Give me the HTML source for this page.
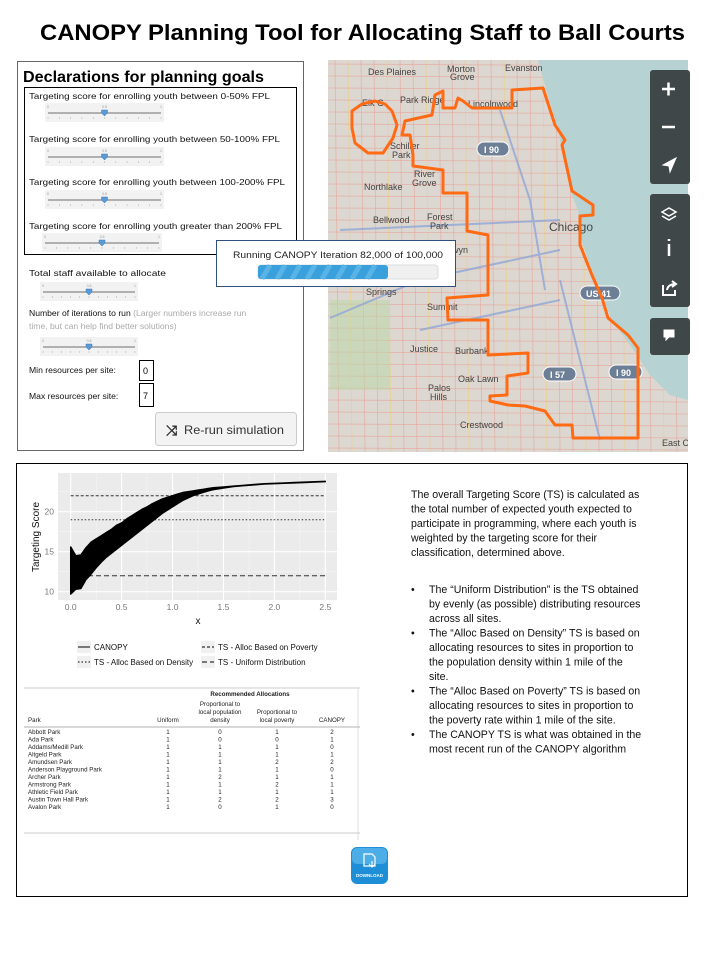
<!DOCTYPE html>
<html><head><meta charset="utf-8"><style>
html,body{margin:0;padding:0;background:#fff;width:720px;height:960px;overflow:hidden}
svg{display:block;font-family:"Liberation Sans",sans-serif}
</style></head><body>
<svg id="page" width="720" height="960" viewBox="0 0 720 960" xmlns="http://www.w3.org/2000/svg">
<text x="40" y="40" font-size="22" font-weight="bold" textLength="645" lengthAdjust="spacingAndGlyphs">CANOPY Planning Tool for Allocating Staff to Ball Courts</text>

<g>
<rect x="17.5" y="61.5" width="286" height="389" fill="#fff" stroke="#666" stroke-width="1"/>
<text x="23" y="82" font-size="16" font-weight="bold" textLength="241" lengthAdjust="spacingAndGlyphs">Declarations for planning goals</text>
<rect x="24.5" y="87.5" width="272" height="167" fill="none" stroke="#000" stroke-width="1"/>
<g font-size="8.6" fill="#111">
<text x="29" y="99" textLength="241" lengthAdjust="spacingAndGlyphs">Targeting score for enrolling youth between 0-50% FPL</text>
<text x="29" y="142" textLength="251" lengthAdjust="spacingAndGlyphs">Targeting score for enrolling youth between 50-100% FPL</text>
<text x="29" y="185" textLength="256" lengthAdjust="spacingAndGlyphs">Targeting score for enrolling youth between 100-200% FPL</text>
<text x="29" y="229" textLength="253" lengthAdjust="spacingAndGlyphs">Targeting score for enrolling youth greater than 200% FPL</text>
<text x="29" y="276" textLength="137" lengthAdjust="spacingAndGlyphs">Total staff available to allocate</text>
<text x="29" y="316"><tspan>Number of iterations to run</tspan><tspan fill="#aaa"> (Larger numbers increase run</tspan></text>
<text x="29" y="329" fill="#aaa">time, but can help find better solutions)</text>
<text x="29" y="373">Min resources per site:</text>
<text x="29" y="399">Max resources per site:</text>
</g>
<g id="sliders"></g>
<rect x="139.5" y="360.5" width="14" height="20" fill="#fff" stroke="#000"/>
<text x="143" y="374" font-size="9">0</text>
<rect x="139.5" y="383.5" width="14" height="23" fill="#fff" stroke="#000"/>
<text x="143" y="399" font-size="9">7</text>
<g>
<rect x="155.5" y="412.5" width="141" height="33" rx="3" fill="#f3f3f3" stroke="#ccc"/>
<text x="166" y="435" font-size="14" font-weight="bold" fill="#333">⤨</text>
<text x="184" y="434" font-size="12" fill="#333" textLength="100" lengthAdjust="spacingAndGlyphs">Re-run simulation</text>
</g>
</g>

<g>
<clipPath id="mapclip"><rect x="328" y="60" width="360" height="392"/></clipPath>
<g clip-path="url(#mapclip)">
<rect x="328" y="60" width="360" height="392" fill="#dcd7d0"/>
<g id="roads"></g>
<polygon fill="#b6d2d2" points="538,60 688,60 688,400 670,395 650,375 640,360 630,345 612,320 600,290 588,260 580,235 578,210 572,195 565,165 558,130 548,95 542,75"/>
<rect x="330" y="300" width="60" height="90" fill="#b9d7a5" opacity="0.5"/>
<path d="M330 318 L420 280 L560 250 M340 230 L560 220 M420 330 L560 300 M500 110 L530 200 L545 290 M560 280 L600 440" stroke="#8fa6d6" stroke-width="2" fill="none" opacity="0.8"/>
<g font-size="9" fill="#444">
<text x="368" y="75">Des Plaines</text><text x="447" y="72">Morton</text><text x="450" y="80">Grove</text>
<text x="505" y="71">Evanston</text><text x="400" y="103">Park Ridge</text><text x="362" y="106">Elk G</text>
<text x="468" y="107">Lincolnwood</text><text x="390" y="149">Schiller</text><text x="392" y="158">Park</text>
<text x="414" y="177">River</text><text x="412" y="186">Grove</text><text x="364" y="190">Northlake</text>
<text x="373" y="223">Bellwood</text><text x="427" y="220">Forest</text><text x="430" y="229">Park</text>
<text x="549" y="231" font-size="12">Chicago</text><text x="438" y="253">Berwyn</text>
<text x="366" y="295">Springs</text><text x="427" y="310">Summit</text><text x="410" y="352">Justice</text>
<text x="455" y="354">Burbank</text><text x="458" y="382">Oak Lawn</text><text x="428" y="391">Palos</text><text x="430" y="400">Hills</text>
<text x="460" y="428">Crestwood</text><text x="662" y="446">East C</text>
</g>
<g font-size="9" font-weight="bold" fill="#fff">
<rect x="477" y="142" width="32" height="14" rx="7" fill="#6d7f96" stroke="#fff"/><text x="484" y="153">I 90</text>
<rect x="580" y="286" width="40" height="14" rx="7" fill="#6d7f96" stroke="#fff"/><text x="586" y="297">US 41</text>
<rect x="543" y="367" width="33" height="14" rx="7" fill="#6d7f96" stroke="#fff"/><text x="550" y="378">I 57</text>
<rect x="609" y="365" width="33" height="14" rx="7" fill="#6d7f96" stroke="#fff"/><text x="616" y="376">I 90</text>
</g>
<polygon fill="none" stroke="#ff6a13" stroke-width="3" stroke-linejoin="round" points="443,91 443,108 455,108 458,98 463,101 472,108 512,108 512,90 543,88 555,125 565,140 562,145 572,191 593,205 593,215 580,216 580,245 592,275 602,298 608,318 628,335 638,348 638,438 573,438 572,425 555,425 545,411 525,406 508,405 490,401 490,396 507,395 507,376 528,373 528,353 488,355 488,320 448,320 447,298 488,295 488,235 467,231 467,193 443,193 443,170 413,166 413,155 410,135 402,135 405,121 432,115 435,95"/>
<polygon fill="none" stroke="#ff6a13" stroke-width="3" stroke-linejoin="round" points="352,111 362,104 375,101 385,104 392,111 397,125 393,138 383,153 368,153 355,143 352,128"/>
</g>
<g>
<rect x="650" y="70" width="40" height="114" rx="3" fill="#3f4748"/>
<rect x="650" y="194" width="40" height="113" rx="3" fill="#3f4748"/>
<rect x="650" y="318" width="40" height="37" rx="3" fill="#3f4748"/>
<g stroke="#fff" stroke-width="2.5" fill="#fff">
<path d="M662 89 H675 M668.5 82.5 V95.5"/>
<path d="M662 127 H675"/>
<path d="M676 158 L663 165 L669 166 L670 172 Z" stroke-width="1"/>
<path d="M662 212 L669 208 L676 212 L669 216 Z M662 216 L669 220 L676 216" stroke-width="1.5" fill="none"/>
<path d="M669 244 V256 M669 239 V241"/>
<path d="M663 285 V295 H675 V290 M667 290 Q668 284 676 284 M672 281 L676 284 L672 287" fill="none" stroke-width="2"/>
<path d="M664 330 H674 V337 H669 L666 340 V337 H664 Z" stroke-width="1"/>
</g>
</g>
</g>

<g>
<rect x="216.5" y="240.5" width="239" height="46" fill="#fff" stroke="#2f4f7f"/>
<text x="233" y="258" font-size="9.5" fill="#222" textLength="210" lengthAdjust="spacingAndGlyphs">Running CANOPY Iteration 82,000 of 100,000</text>
<rect x="258" y="265" width="180" height="14" rx="3" fill="#f0f0f0" stroke="#ddd"/>
<rect x="258" y="265" width="130" height="14" rx="3" fill="#39a0dc"/>
<path d="M270 265 l-8 14 M285 265 l-8 14 M300 265 l-8 14 M315 265 l-8 14 M330 265 l-8 14 M345 265 l-8 14 M360 265 l-8 14 M375 265 l-8 14" stroke="#6fc0ec" stroke-width="5" opacity="0.6"/>
</g>

<rect x="16.5" y="463.5" width="671" height="433" fill="none" stroke="#000"/>
<g id="chart"></g>

<g font-size="10.6" fill="#111">
<text x="411" y="498">The overall Targeting Score (TS)  is calculated as</text>
<text x="411" y="512.5">the total number of expected  youth expected to</text>
<text x="411" y="527">participate in programming, where each youth is</text>
<text x="411" y="541.5">weighted  by the targeting score for their</text>
<text x="411" y="556">classification, determined above.</text>
<text x="411" y="593">•</text><text x="429" y="593">The “Uniform Distribution” is the TS obtained</text>
<text x="429" y="607.5">by evenly (as possible) distributing resources</text>
<text x="429" y="622">across all sites.</text>
<text x="411" y="636.5">•</text><text x="429" y="636.5">The  “Alloc Based on Density” TS is based on</text>
<text x="429" y="651">allocating resources to sites in proportion to</text>
<text x="429" y="665.5">the population density within 1 mile of the</text>
<text x="429" y="680">site.</text>
<text x="411" y="694.5">•</text><text x="429" y="694.5">The “Alloc Based on Poverty”  TS is based on</text>
<text x="429" y="709">allocating resources to sites in proportion to</text>
<text x="429" y="723.5">the poverty rate within 1 mile of the site.</text>
<text x="411" y="738">•</text><text x="429" y="738">The CANOPY TS is what was obtained in the</text>
<text x="429" y="752.5">most recent run of the CANOPY algorithm</text>
</g>

<g id="table"></g>

<g>
<rect x="351" y="847" width="37" height="37" rx="6" fill="#1e8fd6"/>
<rect x="352" y="848" width="35" height="16" rx="5" fill="#6cc2f2" opacity="0.6"/>
<path d="M364 854 h8 l3 3 v9 h-11 z" fill="none" stroke="#fff" stroke-width="1.2"/>
<path d="M372 861 v6 M369 864 l3 3 l3 -3" stroke="#fff" stroke-width="1.2" fill="none"/>
<text x="369.5" y="877" font-size="4.5" font-weight="bold" fill="#fff" text-anchor="middle">DOWNLOAD</text>
</g>
</svg>
<script>
// ---- chart data ----
const xTicks = [0.0, 0.5, 1.0, 1.5, 2.0, 2.5];
const yTicks = [10, 15, 20];
const canopyX = [0,0.05,0.10,0.15,0.20,0.25,0.30,0.35,0.40,0.45,0.50,0.55,0.60,0.65,0.70,0.75,0.80,0.85,0.90,0.95,1.00,1.05,1.10,1.15,1.20,1.25,1.30,1.35,1.40,1.50,1.6,1.7,1.8,1.9,2.0,2.1,2.2,2.3,2.4,2.5];
const canopyLower = [9.7,10.3,10.4,11.5,12.2,13.0,13.7,14.3,14.8,15.3,15.8,16.3,16.8,17.3,17.8,18.3,18.8,19.3,19.8,20.2,20.6,21.0,21.4,21.7,22.0,22.2,22.4,22.6,22.75,22.95,23.15,23.25,23.35,23.45,23.5,23.55,23.6,23.65,23.7,23.75];
const canopyUpper = [15.6,14.5,14.6,15.5,16.2,16.6,17.0,17.4,17.8,18.3,18.6,19.1,19.5,19.9,20.3,20.6,21.0,21.3,21.6,21.8,22.0,22.2,22.4,22.5,22.6,22.7,22.8,22.9,23.0,23.1,23.2,23.3,23.4,23.5,23.55,23.6,23.65,23.7,23.75,23.8];
const refNames = ["TS - Alloc Based on Poverty","TS - Alloc Based on Density","TS - Uniform Distribution"];
const refValues = [22, 19, 12];
const refStart = [0, 0, 0.17];
const refDash = ["3,2","1.5,2","5,3"];

const NS="http://www.w3.org/2000/svg";
function mk(tag, attrs, parent){const e=document.createElementNS(NS,tag);for(const k in attrs)e.setAttribute(k,attrs[k]);parent.appendChild(e);return e;}
const X0=70.7,X1=325.3,Y10=591.7,PPU=8;
function sx(v){return X0+v*(X1-X0)/2.5;}
function sy(v){return Y10-(v-10)*PPU;}
const chart=document.getElementById('chart');
const panel=mk('rect',{x:58,y:473,width:279,height:127,fill:'#ebebeb'},chart);


for(let i=0;i<xTicks.length-1;i++){const m=(xTicks[i]+xTicks[i+1])/2;mk('line',{x1:sx(m),x2:sx(m),y1:473,y2:600,stroke:'#f5f5f5','stroke-width':0.6},chart);}
[12.5,17.5,22.5].forEach(v=>mk('line',{x1:58,x2:337,y1:sy(v),y2:sy(v),stroke:'#f5f5f5','stroke-width':0.6},chart));
xTicks.forEach(v=>{mk('line',{x1:sx(v),x2:sx(v),y1:473,y2:600,stroke:'#fff','stroke-width':1.1},chart);
 const t=mk('text',{x:sx(v),y:610,'font-size':8.5,fill:'#777','text-anchor':'middle'},chart);t.textContent=v.toFixed(1);
 
 });
yTicks.forEach(v=>{mk('line',{x1:58,x2:337,y1:sy(v),y2:sy(v),stroke:'#fff','stroke-width':1.1},chart);
 const t=mk('text',{x:54,y:sy(v)+3,'font-size':8.5,fill:'#777','text-anchor':'end'},chart);t.textContent=v;
 
 });
refValues.forEach((v,i)=>{const l=mk('line',{x1:sx(refStart[i]),x2:sx(2.5),y1:sy(v),y2:sy(v),stroke:'#333','stroke-width':1,'stroke-dasharray':refDash[i]},chart);
 
 });
let d='';
canopyX.forEach((x,i)=>{d+=(i?'L':'M')+sx(x).toFixed(1)+' '+sy(canopyUpper[i]).toFixed(1)+' ';});
for(let i=canopyX.length-1;i>=0;i--){d+='L'+sx(canopyX[i]).toFixed(1)+' '+sy(canopyLower[i]).toFixed(1)+' ';}
d+='Z';
const cl=mk('path',{d:d,fill:'#000',stroke:'#000','stroke-width':1.4,'stroke-linejoin':'round'},chart);


const yt=mk('text',{x:0,y:0,'font-size':10,fill:'#111','text-anchor':'middle',transform:'translate(39,537) rotate(-90)'},chart);yt.textContent='Targeting Score';


const xt=mk('text',{x:198,y:624,'font-size':10,fill:'#111','text-anchor':'middle'},chart);xt.textContent='x';


const legItems=[["CANOPY",78,647,"none"],[refNames[0],202,647,refDash[0]],[refNames[1],78,662,refDash[1]],[refNames[2],202,662,refDash[2]]];
legItems.forEach(it=>{const g=mk('g',{},chart);
 
 
 mk('rect',{x:it[1]-1,y:it[2]-6,width:14,height:12,fill:'#f0f0f0'},g);
 const la={x1:it[1],x2:it[1]+12,y1:it[2],y2:it[2],stroke:'#000','stroke-width':1};if(it[3]!=='none')la['stroke-dasharray']=it[3];mk('line',la,g);
 const t=mk('text',{x:it[1]+16,y:it[2]+3,'font-size':8,fill:'#111'},g);t.textContent=it[0];});

const sl=document.getElementById('sliders');
[[45,164,113],[45,164,157],[45,164,200],[42,162,243],[40,138,292],[40,138,347]].forEach(s=>{
 const g=mk('g',{},sl);
 
 
 mk('rect',{x:s[0],y:s[2]-10,width:s[1]-s[0],height:19,fill:'#f2f2f2'},g);
 mk('line',{x1:s[0]+3,x2:s[1]-3,y1:s[2],y2:s[2],stroke:'#999','stroke-width':1.5},g);
 const mid=(s[0]+s[1])/2;
 mk('path',{d:`M${mid-3} ${s[2]-3} h6 v3 l-3 3 l-3 -3 z`,fill:'#5b9bd5',stroke:'#3a78b8','stroke-width':0.5},g);
 for(let i=0;i<=10;i++){mk('line',{x1:s[0]+3+i*(s[1]-s[0]-6)/10,x2:s[0]+3+i*(s[1]-s[0]-6)/10,y1:s[2]+4,y2:s[2]+6,stroke:'#aaa','stroke-width':0.5},g);}
 [[s[0]+3,'0'],[mid,'0.5'],[s[1]-3,'1']].forEach(a=>{const t=mk('text',{x:a[0],y:s[2]-5,'font-size':3.5,fill:'#999','text-anchor':'middle'},g);t.textContent=a[1];});
});
const rd=document.getElementById('roads');
for(let x=335;x<690;x+=13){mk('line',{x1:x,x2:x+4,y1:60,y2:452,stroke:(x%3?'#e8a49a':'#f0d07a'),'stroke-width':0.8,opacity:0.7},rd);}
for(let y=64;y<452;y+=12){mk('line',{x1:328,x2:688,y1:y,y2:y+2,stroke:(y%3?'#e8a49a':'#f0d07a'),'stroke-width':0.8,opacity:0.7},rd);}

const parks=["Abbott Park","Ada Park","Addams/Medill Park","Altgeld Park","Amundsen Park","Anderson Playground Park","Archer Park","Armstrong Park","Athletic Field Park","Austin Town Hall Park","Avalon Park"];
const uniformAlloc=[1,1,1,1,1,1,1,1,1,1,1];
const densityAlloc=[0,0,1,1,1,1,2,1,1,2,0];
const povertyAlloc=[1,0,1,1,2,1,1,2,1,2,1];
const canopyAlloc=[2,1,0,1,2,0,1,1,1,3,0];
const tb=document.getElementById('table');
mk('line',{x1:24,x2:360,y1:688,y2:688,stroke:'#ccc'},tb);
mk('line',{x1:358,x2:358,y1:688,y2:840,stroke:'#ddd'},tb);
mk('line',{x1:24,x2:360,y1:727,y2:727,stroke:'#ccc','stroke-width':1.5},tb);
mk('line',{x1:24,x2:360,y1:833,y2:833,stroke:'#ccc'},tb);
function tx(x,y,s,anc,w){const t=mk('text',{x:x,y:y,'font-size':6.2,fill:'#222','text-anchor':anc||'start','font-weight':w||'normal'},tb);t.textContent=s;return t;}
tx(250,696,'Recommended Allocations','middle','bold');
tx(220,706,'Proportional to','middle');tx(220,714,'local population','middle');tx(220,722,'density','middle');
tx(277,714,'Proportional to','middle');tx(277,722,'local poverty','middle');
tx(28,722,'Park');tx(168,722,'Uniform','middle');tx(332,722,'CANOPY','middle');
const cx=[168,220,277,332];
parks.forEach((p,i)=>{const y=734+i*7.5;tx(28,y,p);
 [uniformAlloc,densityAlloc,povertyAlloc,canopyAlloc].forEach((a,j)=>tx(cx[j],y,String(a[i]),'middle'));});
</script>
</body></html>
